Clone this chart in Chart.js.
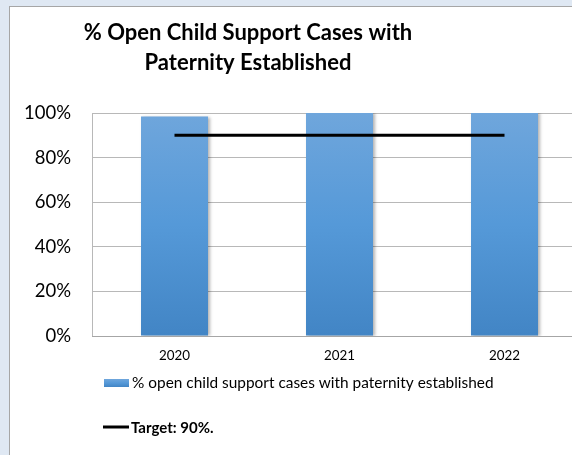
<!DOCTYPE html>
<html>
<head>
<meta charset="utf-8">
<script src="https://cdn.jsdelivr.net/npm/chart.js@4.4.0/dist/chart.umd.min.js"></script>
<style>
  html, body { margin: 0; padding: 0; overflow: hidden; width: 572px; height: 455px; background: #dfe8f3; }
  #frame { position: absolute; left: 9px; top: 6px; width: 700px; height: 600px; border: 1px solid #a6a6a6; background: #fff; }
  #chart { position: absolute; left: 0; top: 0; }
</style>
</head>
<body>
<div id="frame"></div>
<canvas id="chart" width="600" height="455"></canvas>
<script>
const years = ["2020", "2021", "2022"];
const paternityPct = [98.4, 100, 100];
const targetPct = [90, 90, 90];
const yTicks = [0, 20, 40, 60, 80, 100];
const titleLines = ["% Open Child Support Cases with", "Paternity Established"];
const barLabel = "% open child support cases with paternity established";
const targetLabel = "Target: 90%.";

Chart.defaults.font.family = "Lato";
Chart.defaults.color = "#000";

function barGradient(ctx, top, bottom) {
    const g = ctx.createLinearGradient(0, top, 0, bottom);
    g.addColorStop(0, "#6fa6dc");
    g.addColorStop(0.5, "#5599d8");
    g.addColorStop(1, "#4285c5");
    return g;
}

// soft shadow on the right of the bars
const barShadow = {
    id: "barShadow",
    beforeDatasetDraw(chart, args) {
        if (args.index !== 0) return;
        const c = chart.ctx;
        c.save();
        c.shadowColor = "rgba(0,0,0,0.3)";
        c.shadowOffsetX = 2;
        c.shadowBlur = 3;
    },
    afterDatasetDraw(chart, args) {
        if (args.index !== 0) return;
        chart.ctx.restore();
    }
};

// title and the two-row legend, drawn like the office chart
const titleAndLegend = {
    id: "titleAndLegend",
    afterDraw(chart) {
        const c = chart.ctx;
        c.save();
        c.fillStyle = "#000";
        c.textAlign = "center";
        c.textBaseline = "middle";
        c.font = "bold 22px Lato";
        c.fillText(titleLines[0], 248, 33);
        c.fillText(titleLines[1], 248, 63);

        c.textAlign = "left";
        c.fillStyle = barGradient(c, 379, 387);
        c.fillRect(104, 379, 25, 8);
        c.fillStyle = "#000";
        c.font = "15.4px Lato";
        c.fillText(chart.data.datasets[0].label, 132, 383);

        c.strokeStyle = "#000";
        c.lineWidth = 3;
        c.beginPath();
        c.moveTo(103, 427);
        c.lineTo(129, 427);
        c.stroke();
        c.font = "bold 15px Lato";
        c.fillText(chart.data.datasets[1].label, 131, 428);
        c.restore();
    }
};

const ctx = document.getElementById("chart");

const graph = new Chart(ctx, {
    data: {
        labels: years,
        datasets: [
            {
                type: "bar",
                label: barLabel,
                data: paternityPct,
                order: 1,
                barPercentage: 0.406,
                categoryPercentage: 1,
                backgroundColor: function(context) {
                    const area = context.chart.chartArea;
                    if (!area) return "#5599d8";
                    return barGradient(context.chart.ctx, area.top, area.bottom);
                },
                borderWidth: 0
            },
            {
                type: "line",
                label: targetLabel,
                data: targetPct,
                order: 0,
                borderColor: "#000",
                borderWidth: 3,
                pointRadius: 0,
                pointHoverRadius: 0,
                fill: false
            }
        ]
    },
    options: {
        responsive: false,
        animation: false,
        layout: {
            padding: { left: 10, top: 113, right: 13, bottom: 0 }
        },
        scales: {
            y: {
                min: 0,
                max: 100,
                afterFit: function(scale) { scale.width = 82; },
                afterBuildTicks: function(scale) {
                    scale.ticks = yTicks.map(v => ({ value: v }));
                },
                ticks: {
                    padding: 21,
                    font: { size: 18.5 },
                    callback: function(value) { return value + "%"; }
                },
                grid: { color: "#b8b8b8", drawTicks: false },
                border: { color: "#b8b8b8" }
            },
            x: {
                afterFit: function(scale) { scale.height = 119; },
                ticks: {
                    padding: 12,
                    font: { size: 13.4 }
                },
                grid: { display: false, drawTicks: false },
                border: { color: "#a6a6a6" }
            }
        },
        plugins: {
            legend: { display: false },
            title: { display: false },
            tooltip: { enabled: false }
        }
    },
    plugins: [barShadow, titleAndLegend]
});
</script>
</body>
</html>
